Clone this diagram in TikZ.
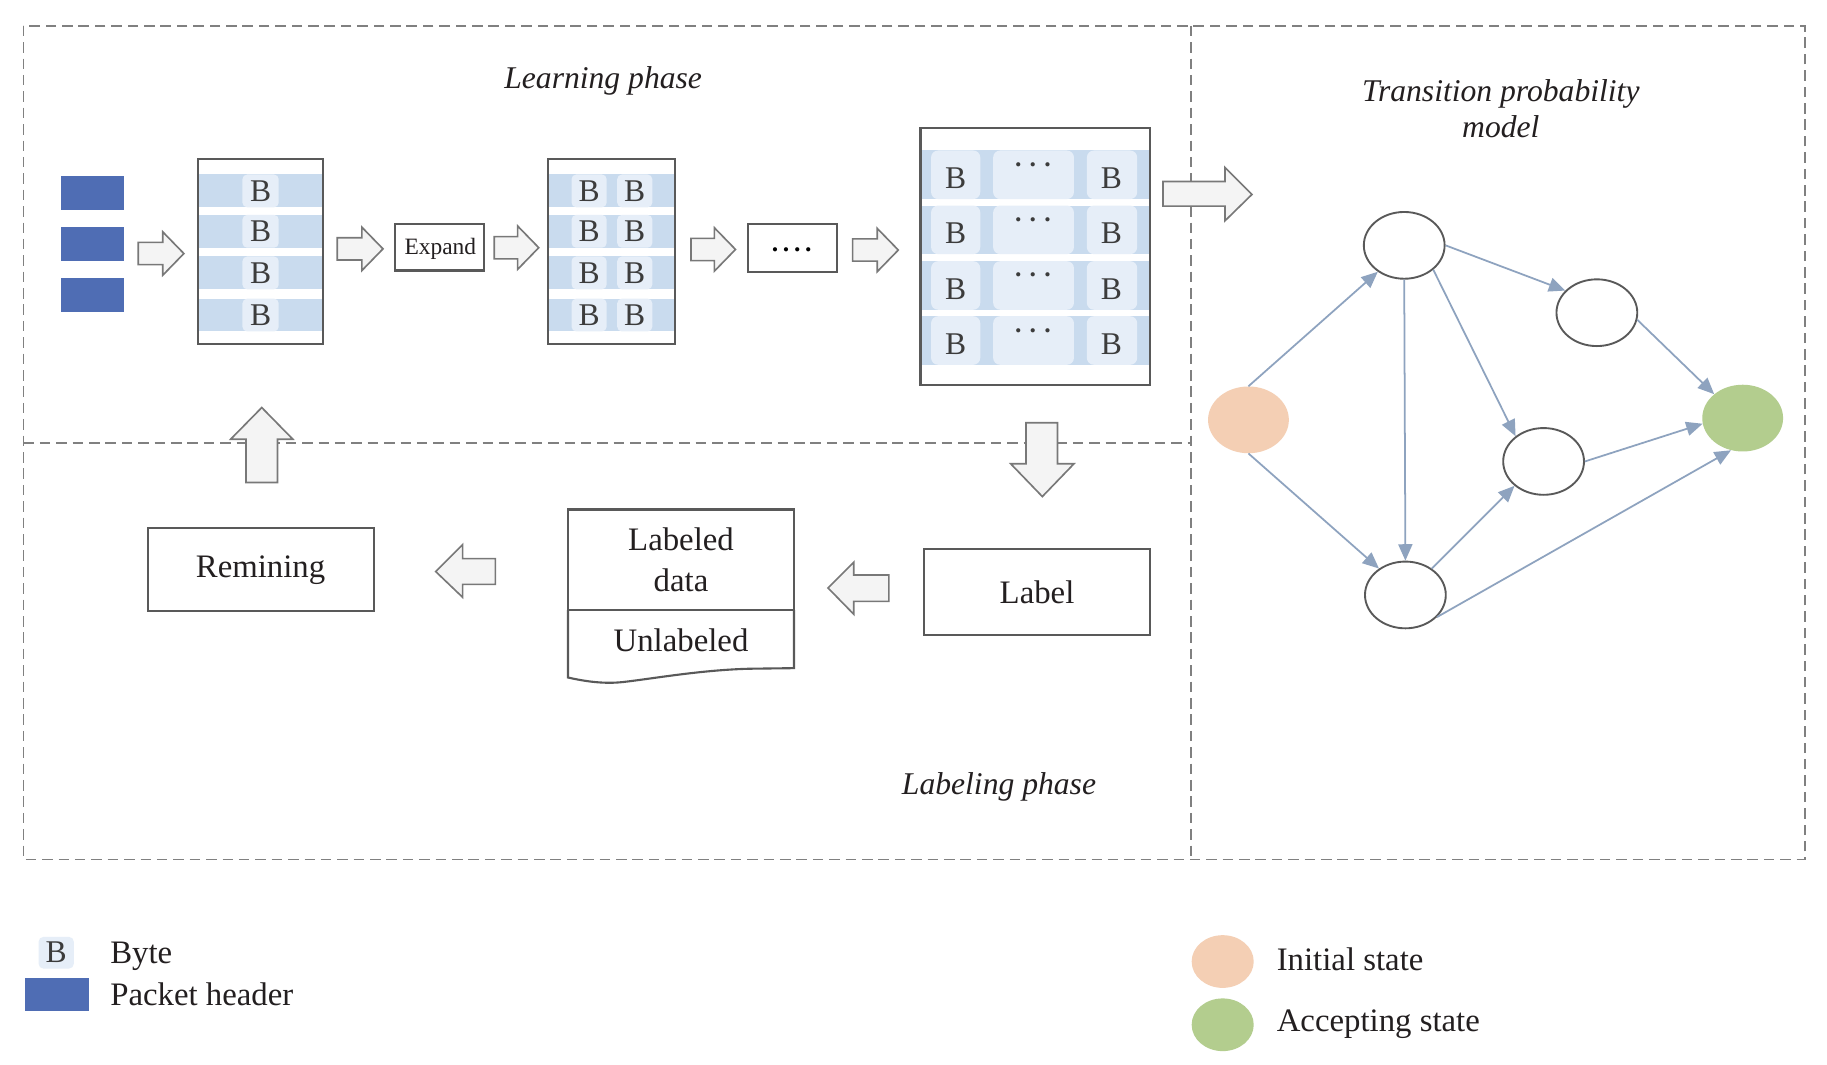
\documentclass[tikz,border=0pt]{standalone}
\usepackage{fontspec}
\setmainfont{Liberation Serif}
\usetikzlibrary{arrows.meta,shapes.geometric}
\definecolor{hdr}{RGB}{79,109,180}
\definecolor{band}{RGB}{201,219,238}
\definecolor{cellc}{RGB}{230,238,248}
\definecolor{edgec}{RGB}{142,163,191}
\definecolor{peach}{RGB}{244,207,180}
\definecolor{grn}{RGB}{179,205,142}
\definecolor{framec}{RGB}{89,89,89}
\definecolor{dashc}{RGB}{128,128,128}
\definecolor{arrfill}{RGB}{244,244,244}
\definecolor{arrdraw}{RGB}{120,120,120}
\definecolor{txtc}{RGB}{35,31,32}
\definecolor{btc}{RGB}{60,60,60}
\newcommand\myRarr[3]{\draw[blockarr] (#1,#3-9.5) -- (#2-18,#3-9.5) -- (#2-18,#3-18.5) -- (#2,#3) -- (#2-18,#3+18.5) -- (#2-18,#3+9.5) -- (#1,#3+9.5) -- cycle;}
\begin{document}
\begin{tikzpicture}[x=1pt,y=-1pt,
  dashline/.style={draw=dashc, line width=1.4pt, dash pattern=on 9pt off 5pt},
  blockarr/.style={draw=arrdraw, fill=arrfill, line width=1.4pt, line join=miter},
  boxst/.style={draw=framec, line width=1.8pt, inner sep=0pt, outer sep=0pt},
  hdrbox/.style={fill=hdr, minimum width=54pt, minimum height=29pt, inner sep=0pt},
  btxt/.style={text=btc, font=\fontsize{27}{30}\selectfont, inner sep=0pt},
  ttl/.style={text=txtc, font=\itshape\fontsize{27}{30}\selectfont, inner sep=0pt},
  lbl/.style={text=txtc, font=\fontsize{28}{35}\selectfont, inner sep=0pt},
  stnode/.style={ellipse, draw=framec, line width=1.6pt, fill=white, minimum width=69pt, minimum height=57pt, inner sep=0pt},
  fillnode/.style={ellipse, minimum width=69pt, minimum height=57pt, inner sep=0pt},
  edge/.style={draw=edgec, line width=1.5pt, -{Triangle[length=14pt,width=12pt]}}
]
\fill[white] (0,0) rectangle (1560,909);
\useasboundingbox (0,0) rectangle (1560,909);
% frames
\draw[dashline] (20,22) rectangle (1541,734);
\draw[dashline] (1017,22) -- (1017,734);
\draw[dashline] (20,378) -- (1017,378);
% titles
\node[ttl, anchor=base] (learn) at (515,75.5) {Learning phase};
\node[ttl, anchor=base] (tpm1) at (1281.5,87) {Transition probability};
\node[ttl, anchor=base] (tpm2) at (1281.5,117.5) {model};
\node[ttl, anchor=base] (lphase) at (853,678) {Labeling phase};
% packet headers
\node[hdrbox] (p1) at (79,164.5) {};
\node[hdrbox] (p2) at (79,208.5) {};
\node[hdrbox] (p3) at (79,251.5) {};
\myRarr{118}{157}{216.5}
% box 1
\foreach \yy/\i in {149/1,183.5/2,219/3,255/4}{
  \fill[band] (169,\yy) rectangle (276,\yy+28);
  \fill[cellc, rounded corners=4pt] (207,\yy) rectangle (238,\yy+28);
  \node[btxt, anchor=base] (ba\i) at (222.5,\yy+23) {B};
}
\node[boxst, minimum width=107pt, minimum height=158pt] (box1) at (222.5,215) {};
\myRarr{288}{327}{212.5}
\node[boxst, minimum width=76pt, minimum height=40pt] (expand) at (375,211) {};
\node[btxt, text=txtc, font=\fontsize{20}{24}\selectfont, anchor=base] (exptxt) at (376,217.5) {Expand};
\myRarr{422}{460}{211.5}
% box 2
\foreach \yy/\i in {149/1,183.5/2,219/3,255/4}{
  \fill[band] (468,\yy) rectangle (576,\yy+28);
  \fill[cellc, rounded corners=4pt] (488,\yy) rectangle (518,\yy+28);
  \fill[cellc, rounded corners=4pt] (527,\yy) rectangle (557,\yy+28);
  \node[btxt, anchor=base] (bb\i) at (503,\yy+23) {B};
  \node[btxt, anchor=base] (bc\i) at (542,\yy+23) {B};
}
\node[boxst, minimum width=108pt, minimum height=158pt] (box2) at (522,215) {};
\myRarr{590}{628}{213}
\node[boxst, minimum width=76pt, minimum height=41pt] (dotsbox) at (677,211.5) {};
\node[btxt, text=black, font=\bfseries\fontsize{22}{24}\selectfont, anchor=base] (dotstxt) at (676,215) {.\hspace{4pt}.\hspace{4pt}.\hspace{4pt}.};
\myRarr{728}{767}{213.5}
% box 3
\foreach \yy/\i in {128.5/1,175.5/2,223/3,270/4}{
  \fill[band] (786,\yy) rectangle (982,\yy+41.5);
  \fill[cellc, rounded corners=6pt] (795,\yy) rectangle (837,\yy+41.5);
  \fill[cellc, rounded corners=6pt] (848,\yy) rectangle (917,\yy+41.5);
  \fill[cellc, rounded corners=6pt] (928,\yy) rectangle (971,\yy+41.5);
  \node[btxt, anchor=base] (bd\i) at (816,\yy+32.5) {B};
  \node[btxt, anchor=base, font=\bfseries\fontsize{22}{24}\selectfont] (be\i) at (882,\yy+13.5) {.\hspace{7pt}.\hspace{7pt}.};
  \node[btxt, anchor=base] (bf\i) at (949,\yy+32.5) {B};
}
\node[boxst, minimum width=196pt, minimum height=220pt] (box3) at (884,219) {};
% big arrows
\draw[blockarr] (993,155) -- (1046,155) -- (1046,143) -- (1069,166) -- (1046,188.5) -- (1046,176) -- (993,176) -- cycle;
\draw[blockarr] (876,361) -- (903,361) -- (903,396) -- (917,396) -- (890,424) -- (863,396) -- (876,396) -- cycle;
\draw[blockarr] (210,412) -- (237,412) -- (237,375) -- (250,375) -- (223.5,348) -- (197,375) -- (210,375) -- cycle;
\draw[blockarr] (423,477) -- (395,477) -- (395,465) -- (372,488) -- (395,510) -- (395,499) -- (423,499) -- cycle;
\draw[blockarr] (759,491) -- (729,491) -- (729,480) -- (707,502) -- (729,524.5) -- (729,513.5) -- (759,513.5) -- cycle;
% lower boxes
\node[boxst, minimum width=193pt, minimum height=71pt, lbl] (remin) at (222.5,486.5) {Remining};
\node[boxst, minimum width=193pt, minimum height=73pt, lbl] (labelbox) at (885.5,505.5) {Label};
\node[boxst, minimum width=193pt, minimum height=86pt, lbl, align=center] (labdata) at (581.5,478) {Labeled\\data};
\draw[draw=framec, line width=1.8pt, line join=miter] (485,521) -- (485,578.5) .. controls (505,583) and (520,584) .. (535,582) .. controls (560,579) and (600,572) .. (640,571) -- (678,570.5) -- (678,521);
\node[lbl] (unlab) at (581.5,546.5) {Unlabeled};
% graph
\node[fillnode, fill=peach] (init) at (1066,358.5) {};
\node[fillnode, fill=grn] (acc) at (1488,357) {};
\node[stnode] (n1) at (1199,209.5) {};
\node[stnode] (n2) at (1363.5,267) {};
\node[stnode] (n3) at (1318,394) {};
\node[stnode] (n4) at (1200,508) {};
\draw[edge] (init.north) -- (n1.225);
\draw[edge] (init.south) -- (n4.135);
\draw[edge] (n1.east) -- (n2.145);
\draw[edge] (n1.-40) -- (n3.138);
\draw[edge] (n1.south) -- (n4.north);
\draw[edge] (n2.-10) -- (acc.140);
\draw[edge] (n3.east) -- (acc.188);
\draw[edge] (n4.45) -- (n3.220);
\draw[edge] (n4.-35) -- (acc.250);
% legend
\fill[cellc, rounded corners=4pt] (33,800) rectangle (63,827);
\node[btxt, anchor=base] (legb) at (48,821.5) {B};
\node[lbl, anchor=base west] (legbyte) at (94,823) {Byte};
\node[hdrbox, minimum width=55pt, minimum height=28pt] (leghdr) at (48.5,849) {};
\node[lbl, anchor=base west] (legpkt) at (94,858.5) {Packet header};
\node[fillnode, fill=peach, minimum width=53pt, minimum height=45pt] (legini) at (1044,821) {};
\node[lbl, anchor=base west] (leginitxt) at (1090,829) {Initial state};
\node[fillnode, fill=grn, minimum width=53pt, minimum height=45pt] (legacc) at (1044,875) {};
\node[lbl, anchor=base west] (legacctxt) at (1090,881) {Accepting state};
\end{tikzpicture}
\end{document}
